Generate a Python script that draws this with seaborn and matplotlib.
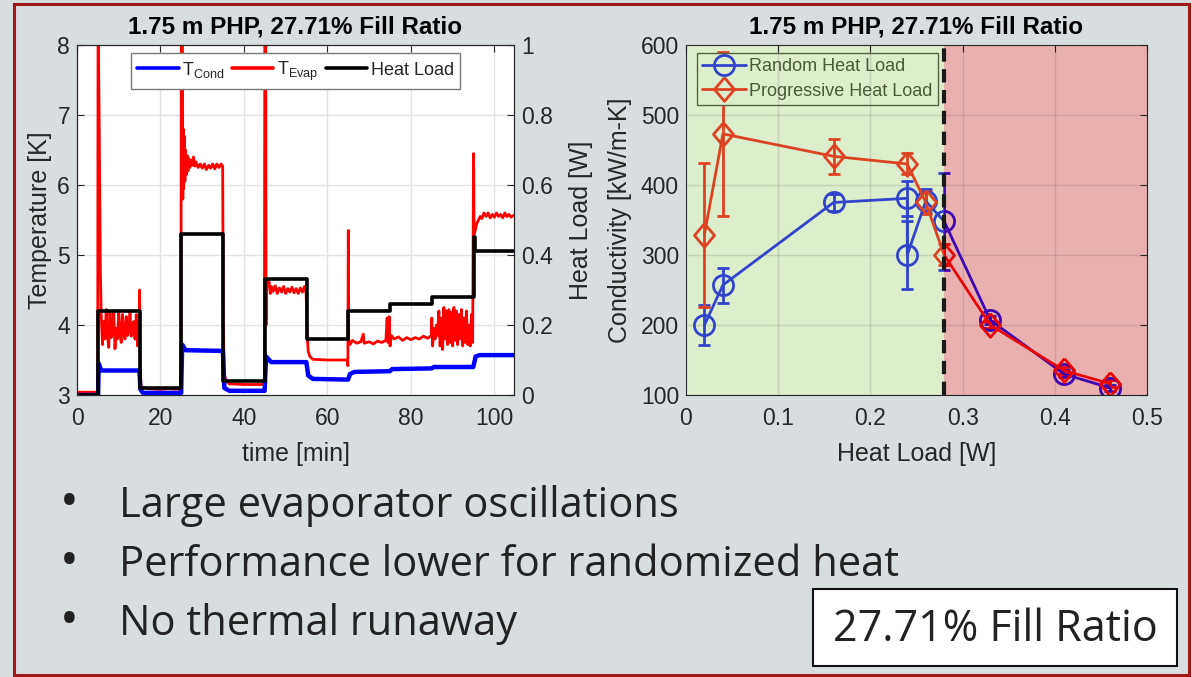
import numpy as np
import pandas as pd
import matplotlib
matplotlib.use("Agg")
import matplotlib.pyplot as plt
import matplotlib.ticker as mticker
from matplotlib.patches import Rectangle
import seaborn as sns

# ---------------- data ----------------
# Left chart: time series (time in min)
evap_t = [0, 4.95, 5.05, 5.3, 5.6, 5.8,
          6.1, 6.4, 6.7, 7.0, 7.3, 7.6, 7.9, 8.2, 8.5, 8.8, 9.1, 9.4, 9.7, 10.0, 10.3,
          10.6, 10.9, 11.2, 11.5, 11.8, 12.1, 12.4, 12.7, 13.0, 13.3, 13.6, 13.9, 14.2,
          14.5, 14.8, 14.95, 15.0, 15.1, 15.3, 17, 20, 22, 24.9,
          25.0, 25.25, 25.35, 25.45, 25.55, 25.7, 25.85, 26.0, 26.2, 26.4, 26.6, 26.8,
          27.0, 27.3, 27.6, 27.9, 28.2, 28.5, 29, 29.5, 30, 30.5, 31, 31.5, 32, 32.5,
          33, 33.5, 34, 34.5, 34.9, 35.05, 35.3, 35.7, 36.5, 40, 44.9,
          45.0, 45.2, 45.3, 45.4, 45.7, 46, 46.3, 46.6, 47, 47.5, 48, 48.5, 49, 49.5,
          50, 50.5, 51, 51.5, 52, 52.5, 53, 53.5, 54, 54.5, 54.9, 55.1, 55.4, 55.8,
          56.5, 60, 64.8, 64.9,
          65.0, 65.1, 65.4, 66, 67, 68, 68.6, 68.8, 70, 71, 72, 73, 74, 74.3, 74.5,
          74.8, 75.0, 75.3, 76, 77, 78, 79, 80, 81, 82, 83, 84, 84.9,
          85.0, 85.2, 85.5, 85.8, 86.1, 86.4, 86.7, 87, 87.3, 87.6, 87.9, 88.2, 88.5,
          88.8, 89.1, 89.4, 89.7, 90, 90.3, 90.6, 90.9, 91.2, 91.5, 91.8, 92.1, 92.4,
          92.7, 93, 93.3, 93.6, 93.9, 94.2, 94.5, 94.8,
          95.0, 95.15, 95.4, 95.8, 96.2, 96.6, 97, 97.5, 98, 98.5, 99, 99.5, 100,
          100.5, 101, 101.5, 102, 102.5, 103, 103.5, 104, 104.7]
evap_v = [3.04, 3.04, 8.6, 7.0, 4.8, 4.15,
          3.72, 4.05, 3.80, 4.22, 3.85, 3.68, 4.18, 3.82, 3.90, 4.20, 3.66, 3.95, 3.80,
          4.18, 3.88, 3.75, 4.15, 3.90, 3.80, 4.12, 3.85, 3.92, 4.20, 3.84, 3.88, 4.05,
          3.80, 4.15, 3.70, 3.95, 3.70, 4.5, 3.6, 3.12, 3.09, 3.08, 3.09, 3.08,
          8.6, 8.6, 5.8, 6.8, 5.95, 6.7, 6.05, 6.5, 6.15, 6.42, 6.2, 6.38,
          6.25, 6.35, 6.28, 6.4, 6.27, 6.33, 6.25, 6.3, 6.24, 6.3, 6.22, 6.28, 6.24, 6.3,
          6.23, 6.3, 6.25, 6.3, 6.27, 4.0, 3.3, 3.2, 3.16, 3.15, 3.15,
          8.6, 8.6, 4.0, 4.65, 4.55, 4.62, 4.45, 4.55, 4.48, 4.56, 4.45, 4.53, 4.47, 4.55,
          4.45, 4.52, 4.47, 4.54, 4.46, 4.52, 4.45, 4.53, 4.47, 4.55, 4.45, 3.9, 3.62, 3.55,
          3.51, 3.5, 3.5, 3.42,
          5.35, 3.8, 3.72, 3.78, 3.74, 3.76, 3.87, 3.74, 3.76, 3.73, 3.77, 3.75, 3.78, 4.1, 3.75,
          4.12, 3.7, 3.85, 3.8, 3.83, 3.78, 3.82, 3.79, 3.82, 3.8, 3.84, 3.81, 3.85,
          4.1, 3.7, 3.95, 3.8, 4.0, 3.85, 4.2, 3.7, 4.1, 3.65, 4.25, 3.8, 4.2,
          3.72, 4.22, 3.75, 4.18, 3.7, 4.25, 3.78, 4.2, 3.72, 4.15, 3.8, 4.22, 3.7,
          4.1, 3.75, 4.2, 3.72, 4.0, 3.7, 4.15, 3.75,
          6.45, 5.3, 5.35, 5.45, 5.5, 5.55, 5.52, 5.6, 5.55, 5.6, 5.53, 5.58, 5.54,
          5.6, 5.55, 5.58, 5.53, 5.6, 5.55, 5.58, 5.54, 5.57]

cond_t = [0, 5.05, 5.2, 5.8, 14.95, 15.2, 15.8, 24.95, 25.2, 26, 34.95, 35.3, 36.5,
          44.95, 45.3, 46.5, 54.95, 55.4, 56.5, 64.95, 65.4, 66.5, 74.95, 75.5,
          84.95, 85.5, 94.95, 95.5, 96.5, 104.7]
cond_v = [3.0, 3.0, 3.45, 3.35, 3.35, 3.08, 3.03, 3.03, 3.72, 3.64, 3.63, 3.1, 3.06,
          3.06, 3.55, 3.47, 3.47, 3.28, 3.23, 3.22, 3.3, 3.33, 3.34, 3.37,
          3.38, 3.40, 3.40, 3.55, 3.57, 3.57]

load_t = [0, 5, 15, 25, 35, 45, 55, 65, 75, 85, 95, 95.4, 104.7]
load_v = [0, 0.24, 0.02, 0.46, 0.04, 0.33, 0.16, 0.24, 0.26, 0.28, 0.45, 0.41, 0.41]

# Right chart: conductivity vs heat load
rand_q = [0.02, 0.04, 0.16, 0.24, 0.24, 0.26, 0.28, 0.33, 0.41, 0.46]
rand_k = [200, 257, 375, 381, 300, 377, 348, 207, 130, 110]
rand_e = [29, 25, 12, 25, 48, 17, 69, 6, 5, 4]

prog_q = [0.02, 0.04, 0.16, 0.24, 0.26, 0.28, 0.33, 0.41, 0.46]
prog_k = [329, 473, 441, 430, 375, 300, 200, 135, 116]
prog_e = [103, 117, 25, 15, 17, 15, 5, 5, 5]

threshold_q = 0.28

title_txt = "1.75 m PHP, 27.71% Fill Ratio"
bullets = ["Large evaporator oscillations",
           "Performance lower for randomized heat",
           "No thermal runaway"]
box_txt = "27.71% Fill Ratio"

# ---------------- style ----------------
sns.set_theme(style="white")
plt.rcParams['font.family'] = ['Liberation Sans', 'DejaVu Sans']
plt.rcParams['mathtext.fontset'] = 'custom'
plt.rcParams['mathtext.rm'] = 'Liberation Sans'
plt.rcParams['mathtext.it'] = 'Liberation Sans'

W, H = 1192, 677
bg = '#D8DDE0'
fig = plt.figure(figsize=(W / 100, H / 100), dpi=100, facecolor=bg)

def fx(px):
    return px / W

def fy(py):
    return 1 - py / H

txtc = '#262626'
TICK = 16.5
LAB = 18
TIT = 17.5

# ---------------- left chart ----------------
axL = fig.add_axes([fx(77), fy(395), fx(514) - fx(77), fy(45) - fy(395)])
axL.set_facecolor('white')
df_e = pd.DataFrame({'t': evap_t, 'v': evap_v})
df_c = pd.DataFrame({'t': cond_t, 'v': cond_v})
sns.lineplot(data=df_c, x='t', y='v', ax=axL, color='#0000FF', lw=3.2,
             estimator=None, sort=False, zorder=3)
sns.lineplot(data=df_e, x='t', y='v', ax=axL, color='#FF0000', lw=2.0,
             estimator=None, sort=False, zorder=2.8)
axL.set_xlim(0, 104.7)
axL.set_ylim(3, 8)
axL.set_xticks([0, 20, 40, 60, 80, 100])
axL.set_yticks([3, 4, 5, 6, 7, 8])
axL.grid(True, color='#e3e3e3', lw=1.0)
axL.set_axisbelow(True)
axL.set_xlabel('time [min]', fontsize=LAB, color=txtc, labelpad=8)
axL.set_ylabel('Temperature [K]', fontsize=LAB, color=txtc, labelpad=4)
axL.tick_params(axis='both', direction='in', labelsize=TICK, colors=txtc,
                length=5, width=0.8, top=True, pad=5)
axL.tick_params(axis='x', pad=9)
for s in axL.spines.values():
    s.set_color('#262626')
    s.set_linewidth(0.8)

axR = axL.twinx()
df_l = pd.DataFrame({'t': load_t, 'v': load_v})
sns.lineplot(data=df_l, x='t', y='v', ax=axR, color='black', lw=2.6,
             estimator=None, sort=False, drawstyle='steps-post')
axR.set_ylim(0, 1)
axR.set_yticks([0, 0.2, 0.4, 0.6, 0.8, 1.0])
axR.yaxis.set_major_formatter(mticker.FuncFormatter(lambda v, p: f'{v:g}'))
axR.set_ylabel('Heat Load [W]', fontsize=LAB, color=txtc, labelpad=12)
axR.tick_params(axis='y', direction='in', labelsize=TICK, colors=txtc,
                length=5, width=0.8, pad=5)
axR.grid(False)
for s in axR.spines.values():
    s.set_color('#262626')
    s.set_linewidth(0.8)
axL.set_title(title_txt, fontsize=TIT, fontweight='bold', color='black', pad=8)

h1 = plt.Line2D([], [], color='#0000FF', lw=2.6)
h2 = plt.Line2D([], [], color='#FF0000', lw=2.6)
h3 = plt.Line2D([], [], color='black', lw=2.6)
legL = axR.legend([h1, h2, h3], [r'T$_{\rm Cond}$', r'T$_{\rm Evap}$', 'Heat Load'],
                  loc='upper center', bbox_to_anchor=(0.5, 0.977), borderaxespad=0,
                  ncol=3, fontsize=13, frameon=True, fancybox=False,
                  edgecolor='#7a7a7a', facecolor='white', framealpha=1,
                  handlelength=2.3, handletextpad=0.2, columnspacing=0.4,
                  borderpad=0.35)
legL.get_frame().set_linewidth(1.0)

# ---------------- right chart ----------------
ax2 = fig.add_axes([fx(686), fy(395), fx(1147) - fx(686), fy(45) - fy(395)])
ax2.set_facecolor('white')
blue = '#0000FF'
red = '#FF0000'
diamond = [(0, 1), (0.85, 0), (0, -1), (-0.85, 0), (0, 1)]
ax2.errorbar(rand_q, rand_k, yerr=rand_e, color=blue, marker='o', ms=14.5,
             mfc='none', mew=2, lw=2, elinewidth=2, capsize=4, capthick=2,
             zorder=2)
ax2.errorbar(prog_q, prog_k, yerr=prog_e, color=red, marker=diamond, ms=17,
             mfc='none', mew=2, lw=2, elinewidth=2, capsize=4, capthick=2,
             zorder=2.05)
ax2.set_xlim(0, 0.5)
ax2.set_ylim(100, 600)
ax2.axvspan(0, threshold_q, color=(153 / 255, 204 / 255, 102 / 255), alpha=0.333,
            lw=0, zorder=2.3)
ax2.axvspan(threshold_q, 0.5, color=(192 / 255, 18 / 255, 18 / 255), alpha=0.333,
            lw=0, zorder=2.3)
ax2.axvline(threshold_q, color='#1a1a1a', lw=3, ls=(0, (3.2, 1.8)), zorder=3)
ax2.set_xticks([0, 0.1, 0.2, 0.3, 0.4, 0.5])
ax2.set_yticks([100, 200, 300, 400, 500, 600])
ax2.xaxis.set_major_formatter(mticker.FuncFormatter(lambda v, p: f'{v:g}'))
ax2.grid(True, color='#555555', alpha=0.18, lw=1.0)
ax2.set_axisbelow(False)
ax2.set_xlabel('Heat Load [W]', fontsize=LAB, color=txtc, labelpad=8)
ax2.set_ylabel('Conductivity [kW/m-K]', fontsize=LAB, color=txtc, labelpad=6)
ax2.tick_params(axis='both', direction='in', labelsize=TICK, colors=txtc,
                length=5, width=0.8, top=True, right=True, pad=5)
ax2.tick_params(axis='x', pad=9)
for s in ax2.spines.values():
    s.set_color('#262626')
    s.set_linewidth(0.8)
ax2.set_title(title_txt, fontsize=TIT, fontweight='bold', color='black', pad=8)
hr1 = plt.Line2D([], [], color=blue, lw=2, marker='o', ms=14.5, mfc='none', mew=2)
hr2 = plt.Line2D([], [], color=red, lw=2, marker=diamond, ms=17, mfc='none', mew=2)
legR = ax2.legend([hr1, hr2], ['Random Heat Load', 'Progressive Heat Load'],
                  loc='upper left', bbox_to_anchor=(0.024, 0.977), borderaxespad=0,
                  fontsize=13, frameon=True, fancybox=False, edgecolor='#333333',
                  facecolor='white', framealpha=1, handlelength=2.4,
                  handletextpad=0.2, borderpad=0.3, labelspacing=0.4,
                  labelcolor='#222222')
legR.set_zorder(2.2)

# ---------------- slide text ----------------
fig.patches.append(Rectangle((fx(14), fy(675)), fx(1189) - fx(14), fy(4) - fy(675),
                             transform=fig.transFigure, fill=False,
                             edgecolor='#A01818', lw=2.2, zorder=10))
body_font = ['Liberation Sans Narrow', 'Open Sans', 'DejaVu Sans']
baselines = [517, 576, 635]
for b, txt in zip(baselines, bullets):
    fig.text(fx(60), fy(b), '\u2022', fontsize=36, color='#222222',
             family=body_font, va='baseline', ha='left')
    fig.text(fx(119), fy(b), txt, fontsize=30, color='#222222',
             family=body_font, va='baseline', ha='left')

fig.patches.append(Rectangle((fx(813), fy(666)), fx(1177) - fx(813), fy(589) - fy(666),
                             transform=fig.transFigure, facecolor='white',
                             edgecolor='#111111', lw=1.5, zorder=5))
fig.text(fx(995), fy(641), box_txt, fontsize=31, color='#222222', family=body_font,
         va='baseline', ha='center', zorder=6)

fig.savefig('out.png', dpi=100, facecolor=bg)
